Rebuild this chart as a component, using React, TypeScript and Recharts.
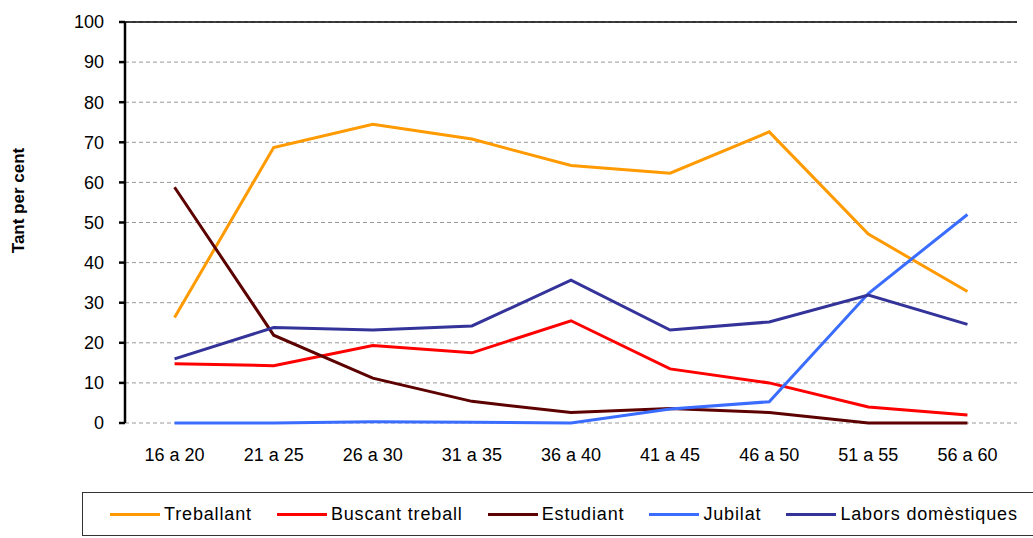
import { LineChart, Line, XAxis, YAxis, CartesianGrid, ReferenceLine, Label } from 'recharts';

const ages = ['16 a 20', '21 a 25', '26 a 30', '31 a 35', '36 a 40', '41 a 45', '46 a 50', '51 a 55', '56 a 60'];

const treballant = [26.3, 68.7, 74.5, 70.8, 64.2, 62.3, 72.6, 47.1, 32.8];
const buscant = [14.8, 14.3, 19.3, 17.5, 25.5, 13.5, 10.0, 4.0, 2.0];
const estudiant = [58.8, 21.9, 11.2, 5.4, 2.6, 3.6, 2.6, 0, 0];
const jubilat = [0, 0, 0.3, 0.2, 0, 3.5, 5.3, 32.3, 52.0];
const labors = [16.0, 23.8, 23.2, 24.2, 35.6, 23.2, 25.2, 31.9, 24.6];

const yTicks = [0, 10, 20, 30, 40, 50, 60, 70, 80, 90, 100];
const boundaryTicks = [0, 1, 2, 3, 4, 5, 6, 7, 8, 9];

const series = [
  { key: 'treballant', name: 'Treballant', color: '#ff9a00', values: treballant },
  { key: 'buscant', name: 'Buscant treball', color: '#ff0000', values: buscant },
  { key: 'estudiant', name: 'Estudiant', color: '#5c0000', values: estudiant },
  { key: 'jubilat', name: 'Jubilat', color: '#3a6dff', values: jubilat },
  { key: 'labors', name: 'Labors domèstiques', color: '#333399', values: labors },
];

const data = ages.map((age, i) => {
  const row: Record<string, string | number> = { age };
  series.forEach((s) => {
    row[s.key] = s.values[i];
  });
  return row;
});

const font = '"Liberation Sans", Arial, sans-serif';
// half of one category slot, so points sit between the boundary ticks
const halfSlot = (1033 - 16 - 125) / 9 / 2;

export default function App() {
  return (
    <div style={{ position: 'absolute', left: 0, top: 0, width: 1033, height: 538, background: '#fff', fontFamily: font, overflow: 'hidden' }}>
      <LineChart width={1033} height={480} data={data} margin={{ top: 22, right: 16, bottom: 17, left: 0 }}>
        <CartesianGrid vertical={false} stroke="#999" strokeDasharray="4 3" />
        <XAxis
          xAxisId="bounds"
          type="number"
          domain={[0, 9]}
          ticks={boundaryTicks}
          height={0}
          tickFormatter={() => ''}
          stroke="#000"
          strokeWidth={2}
          tickSize={6}
          allowDataOverflow
        />
        <XAxis
          dataKey="age"
          height={40}
          axisLine={false}
          tickLine={false}
          tickSize={0}
          tickMargin={25}
          interval={0}
          padding={{ left: halfSlot, right: halfSlot }}
          tick={{ fill: '#000', fontSize: 18, fontFamily: font }}
        />
        <YAxis
          width={125}
          domain={[0, 100]}
          ticks={yTicks}
          interval={0}
          stroke="#000"
          strokeWidth={2.5}
          tickSize={6}
          tickMargin={15}
          tick={{ fill: '#000', fontSize: 18, fontFamily: font }}
        >
          <Label
            value="Tant per cent"
            position="insideLeft"
            content={({ viewBox }: any) => (
              <text
                x={24}
                y={viewBox.y + viewBox.height / 2 - 22}
                transform={`rotate(-90, 24, ${viewBox.y + viewBox.height / 2 - 22})`}
                textAnchor="middle"
                fontSize={17}
                fontWeight="bold"
                fontFamily={font}
                fill="#000"
              >
                Tant per cent
              </text>
            )}
          />
        </YAxis>
        <YAxis yAxisId="right" orientation="right" width={0} domain={[0, 100]} tick={false} tickLine={false} stroke="#000" strokeWidth={1.5} />
        <ReferenceLine y={100} stroke="#000" strokeWidth={1.5} />
        {series.map((s) => (
          <Line
            key={s.key}
            type="linear"
            dataKey={s.key}
            name={s.name}
            stroke={s.color}
            strokeWidth={3}
            dot={false}
            activeDot={false}
            isAnimationActive={false}
          />
        ))}
      </LineChart>
      <div
        style={{
          position: 'absolute',
          left: 82,
          top: 492,
          width: 980,
          height: 44,
          border: '1.5px solid #333',
          display: 'flex',
          alignItems: 'center',
          paddingLeft: 27,
          boxSizing: 'border-box',
        }}
      >
        {series.map((s) => (
          <div key={s.key} style={{ display: 'flex', alignItems: 'center', marginRight: 25 }}>
            <div style={{ width: 50, height: 3, background: s.color, marginRight: 4 }} />
            <span style={{ fontSize: 18, letterSpacing: 0.85, color: '#000', whiteSpace: 'nowrap' }}>{s.name}</span>
          </div>
        ))}
      </div>
    </div>
  );
}
